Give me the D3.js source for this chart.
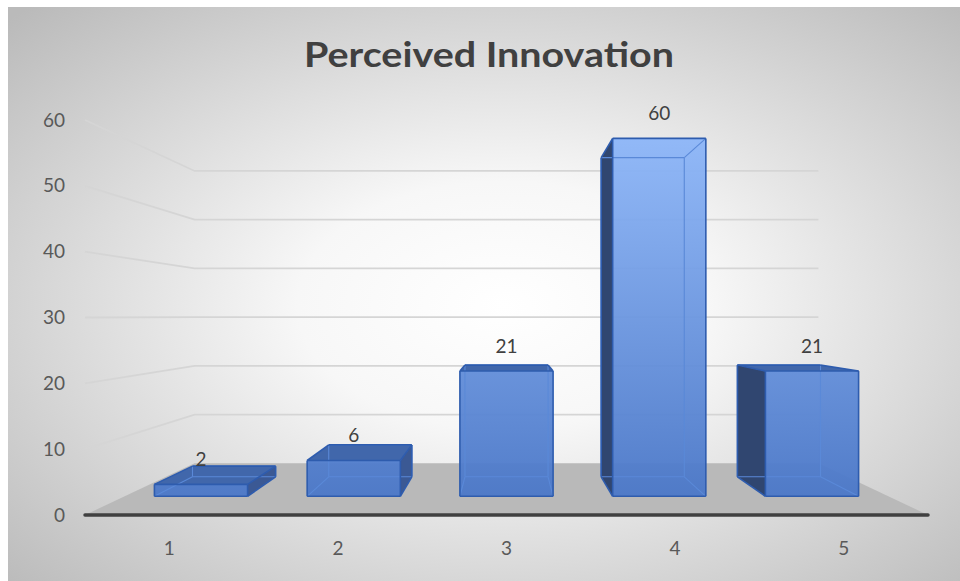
<!DOCTYPE html>
<html><head><meta charset="utf-8">
<script src="https://cdn.jsdelivr.net/npm/d3@7"></script>
<style>body{margin:0;background:#fff}svg{display:block}</style>
</head><body><svg id="c" width="960" height="581"></svg>
<script>
const title = "Perceived Innovation";
const categories = ["1","2","3","4","5"];
const values = [2, 6, 21, 60, 21];
const yTicks = [0, 10, 20, 30, 40, 50, 60];

const svg = d3.select("#c");
const defs = svg.append("defs");
const rg = defs.append("radialGradient").attr("id","bg").attr("cx","52%").attr("cy","52%").attr("r","72%");
rg.append("stop").attr("offset","0").attr("stop-color","#ffffff");
rg.append("stop").attr("offset","0.3").attr("stop-color","#f7f7f7");
rg.append("stop").attr("offset","1").attr("stop-color","#bababa");
svg.append("rect").attr("x",8).attr("y",7).attr("width",952).attr("height",574).attr("fill","url(#bg)");

const x = d3.scaleBand().domain(categories).range([85, 928]);
const y = d3.scaleLinear().domain([0, 60]).range([515, 120]);
const VX = (85 + 928) / 2, VY = 316;
const S_WALL = 0.74, S_F = 0.906, S_B = 0.808;
const P = (px, v, s) => [VX + (px - VX) * s, VY + (y(v) - VY) * s];
const bw = x.bandwidth();
const FONT = "Lato, 'Noto Sans', sans-serif";

const fg = defs.append("linearGradient").attr("id","front").attr("gradientUnits","userSpaceOnUse")
  .attr("x1",0).attr("x2",0).attr("y1",P(0,60,S_F)[1]).attr("y2",P(0,0,S_F)[1]);
fg.append("stop").attr("offset","0").attr("stop-color","#8db6f8");
fg.append("stop").attr("offset","1").attr("stop-color","#4a77c8");

const line = d3.line();
const x0r = x.range()[0], x1r = x.range()[1];

// gridlines (left wall + back wall)
const grid = svg.append("g").attr("stroke","#d5d5d5").attr("stroke-width",1.8).attr("fill","none");
yTicks.filter(t => t > 0).forEach(t => {
  grid.append("path").attr("d", line([P(x0r,t,1), P(x0r,t,S_WALL), P(x1r,t,S_WALL)]));
});

// floor
svg.append("path").attr("d", line([P(x0r,0,1), P(x0r,0,S_WALL), P(x1r,0,S_WALL), P(x1r,0,1)]) + "Z")
  .attr("fill","#b9b9b9");

// axis line
svg.append("line").attr("x1",x0r).attr("x2",x1r).attr("y1",y(0)).attr("y2",y(0))
  .attr("stroke","#404040").attr("stroke-width",3.5).attr("stroke-linecap","round");

// y tick labels
svg.append("g").selectAll("text").data(yTicks).join("text")
  .attr("x",65).attr("y",d => y(d)).attr("dy","0.35em").attr("text-anchor","end")
  .attr("font-family",FONT).attr("font-size",19).attr("fill","#595959")
  .text(d => d);

// x labels
svg.append("g").selectAll("text").data(categories).join("text")
  .attr("x",d => x(d) + bw/2).attr("y",548).attr("dy","0.35em").attr("text-anchor","middle")
  .attr("font-family",FONT).attr("font-size",19).attr("fill","#595959")
  .text(d => d);

// bars
const bars = svg.append("g");
categories.forEach((c, i) => {
  const v = values[i];
  const xa = x(c) + bw * 0.195, xb = xa + bw * 0.61;
  const f00 = P(xa,0,S_F), f10 = P(xb,0,S_F), f11 = P(xb,v,S_F), f01 = P(xa,v,S_F);
  const b00 = P(xa,0,S_B), b10 = P(xb,0,S_B), b11 = P(xb,v,S_B), b01 = P(xa,v,S_B);
  const g = bars.append("g");
  const topVis = y(v) > VY;
  const leftVis = xa > VX, rightVis = xb < VX;
  if (leftVis) g.append("path").attr("d", line([f00,f01,b01,b00])+"Z").attr("fill","#304670");
  if (rightVis) g.append("path").attr("d", line([f10,f11,b11,b10])+"Z").attr("fill","#3b5994");
  if (topVis) g.append("path").attr("d", line([f01,f11,b11,b01])+"Z").attr("fill","#4167ab");
  g.append("path").attr("d", line([f00,f10,f11,f01])+"Z").attr("fill","url(#front)").attr("fill-opacity",0.95);
  const edges = [
    [f00,f10,"front"],[f10,f11,"front"],[f11,f01,"front"],[f01,f00,"front"],
    [b00,b10,"back"],[b10,b11,"back"],[b11,b01,"back"],[b01,b00,"back"],
    [f00,b00,"dl"],[f10,b10,"dr"],[f11,b11,"ur"],[f01,b01,"ul"]
  ];
  const visible = e => {
    const k = e[2];
    if (k === "front") return true;
    if (k === "ul") return topVis || leftVis;
    if (k === "ur") return topVis || rightVis;
    if (k === "dl") return leftVis;
    if (k === "dr") return rightVis;
    return false;
  };
  edges.filter(e => !visible(e)).forEach(e => g.append("path").attr("d", line([e[0],e[1]]))
    .attr("stroke","#5a89d8").attr("stroke-width",1.1).attr("fill","none"));
  const visBack = [];
  if (topVis) visBack.push([b01,b11]);
  if (leftVis) visBack.push([b01,b00]);
  if (rightVis) visBack.push([b11,b10]);
  edges.filter(visible).concat(visBack).forEach(e => g.append("path").attr("d", line([e[0],e[1]]))
    .attr("stroke","#2e5cae").attr("stroke-width",1.6).attr("fill","none").attr("stroke-linejoin","round"));
  g.append("text").attr("x", VX + (x(c)+bw/2 - VX)*S_F).attr("y", f01[1] - 25).attr("dy","0.35em")
    .attr("text-anchor","middle").attr("font-family",FONT).attr("font-size",19)
    .attr("fill","#404040").text(v);
});

// title
svg.append("text").attr("x",489).attr("y",55).attr("dy","0.35em").attr("text-anchor","middle")
  .attr("font-family",FONT).attr("font-weight","bold").attr("font-size",35)
  .attr("textLength",370).attr("lengthAdjust","spacingAndGlyphs")
  .attr("fill","#404040").text(title);
</script></body></html>
